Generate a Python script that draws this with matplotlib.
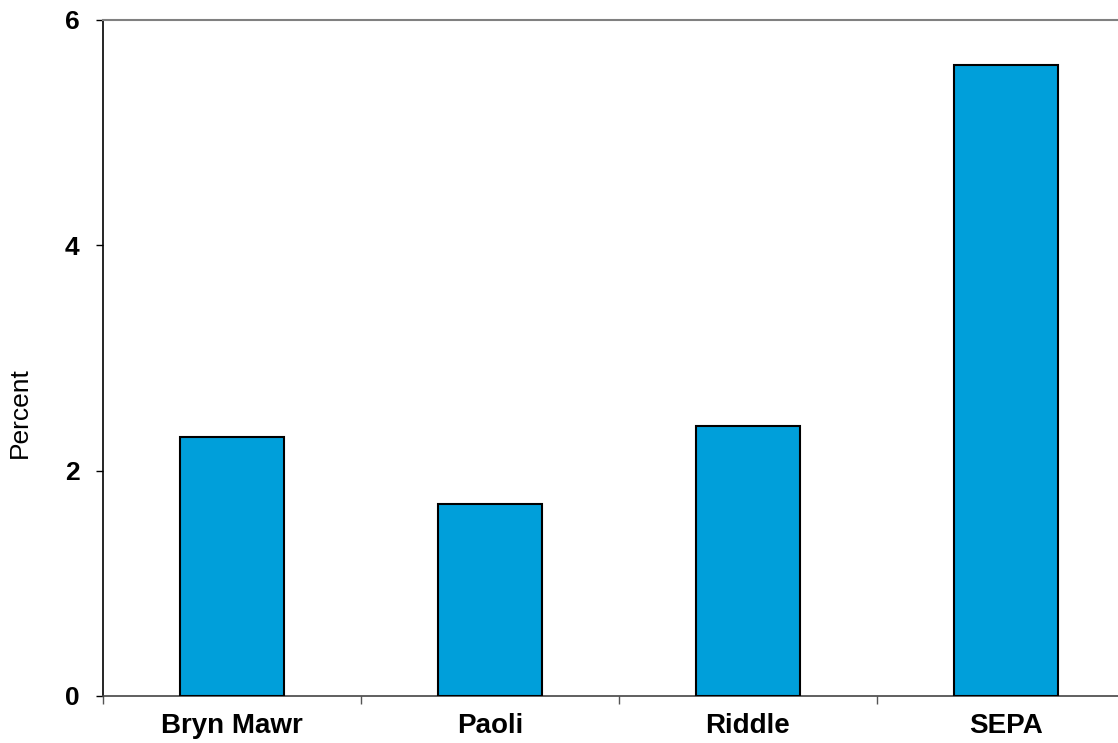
import matplotlib.pyplot as plt
import numpy as np

# Data
categories = ['Bryn Mawr', 'Paoli', 'Riddle', 'SEPA']
values = [2.3, 1.7, 2.4, 5.6]
y_ticks = [0, 2, 4, 6]

plt.rcParams['font.family'] = ['Liberation Sans', 'DejaVu Sans']

fig = plt.figure(figsize=(11.18, 7.43), dpi=100)
# axes runs a bit past the right edge, like the original
ax = fig.add_axes([0.0921, 0.0633, 0.9231, 0.9098])

x = np.arange(len(categories))
ax.bar(x, values, width=0.40, color='#009FDA', edgecolor='black', linewidth=1.5, zorder=3)

ax.set_xlim(-0.5, len(categories) - 0.5)
ax.set_ylim(0, 6)

ax.set_yticks(y_ticks)
ax.set_yticklabels([str(t) for t in y_ticks], fontsize=19, fontweight='bold')
ax.tick_params(axis='y', direction='out', length=5, width=1, pad=12)

ax.set_xticks(x)
ax.set_xticklabels(categories, fontsize=20, fontweight='bold')
ax.tick_params(axis='x', which='major', length=0, pad=12)
ax.set_xticks(np.arange(len(categories)) - 0.5, minor=True)
ax.tick_params(axis='x', which='minor', direction='out', length=6, width=1, color='#555555')

# y label sits a little below the middle in the original
fig.text(0.018, 0.445, 'Percent', rotation=90, fontsize=19, ha='center', va='center')

ax.spines['left'].set_color('black')
ax.spines['left'].set_linewidth(1.2)
ax.spines['bottom'].set_color('#444444')
ax.spines['bottom'].set_linewidth(1.2)
ax.spines['top'].set_color('#808080')
ax.spines['top'].set_linewidth(1.5)
ax.spines['right'].set_visible(False)

fig.savefig('out.png', dpi=100)
